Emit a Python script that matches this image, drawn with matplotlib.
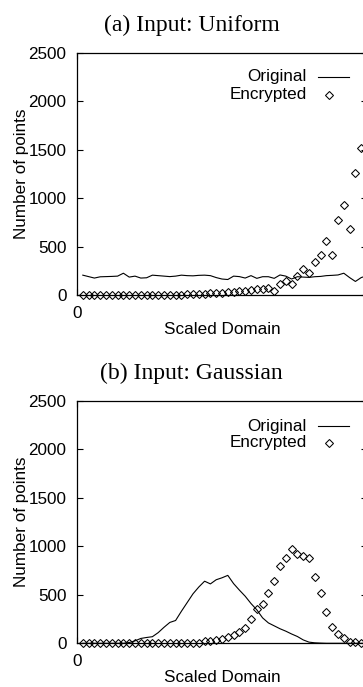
import numpy as np
import matplotlib
matplotlib.use("Agg")
import matplotlib.pyplot as plt
from matplotlib.lines import Line2D

plt.rcParams['font.family'] = ['Liberation Sans', 'DejaVu Sans']

# ---- data (bin index 1..50 on a scaled domain 0..50) ----
bins = np.arange(1, 51)

uniform_original = [205, 190, 175, 188, 190, 192, 195, 225, 185, 195,
                    175, 178, 205, 200, 195, 190, 195, 205, 200, 198,
                    203, 205, 200, 180, 165, 160, 195, 190, 175, 200,
                    172, 189, 189, 172, 207, 195, 165, 189, 185, 182,
                    189, 192, 200, 203, 207, 225, 180, 140, 180, 200]

uniform_encrypted = [0, 0, 0, 0, 0, 0, 0, 0, 0, 0,
                     0, 0, 0, 0, 0, 2, 3, 5, 7, 9,
                     12, 15, 18, 22, 25, 28, 33, 38, 45, 55,
                     62, 59, 72, 45, 114, 145, 110, 200, 265, 224,
                     344, 413, 558, 413, 775, 925, 682, 1257, 1515, 1700]

gaussian_original = [0, 0, 0, 0, 0, 0, 0, 0, 8, 25,
                     50, 60, 68, 110, 165, 215, 235, 330, 420, 510,
                     580, 640, 612, 655, 675, 700, 615, 548, 485, 410,
                     345, 262, 210, 180, 150, 125, 96, 70, 35, 12,
                     5, 2, 0, 0, 0, 0, 0, 0, 0, 0]

gaussian_encrypted = [0, 0, 0, 0, 0, 0, 0, 0, 0, 0,
                      0, 0, 0, 0, 0, 0, 0, 0, 0, 0,
                      0, 24, 27, 34, 44, 62, 86, 113, 155, 247,
                      354, 405, 515, 645, 795, 876, 969, 920, 900, 876,
                      680, 515, 326, 165, 93, 58, 17, 10, 5, 2]

y_ticks = [0, 500, 1000, 1500, 2000, 2500]
x_ticks = [0]
x_tick_labels = ['0']
titles = ["(a) Input: Uniform", "(b) Input: Gaussian"]
series_labels = ["Original", "Encrypted"]

# ---- layout (pixels) ----
W, H = 363, 687
fig = plt.figure(figsize=(W / 100, H / 100), dpi=100)


def fx(px):
    return px / W


def fy(py):
    return 1 - py / H


LEFT, RIGHT = 77, 367
panels = [
    dict(title=titles[0], title_y=25, top=53, bottom=295,
         orig=uniform_original, enc=uniform_encrypted, leg=(77, 95)),
    dict(title=titles[1], title_y=373, top=400.7, bottom=643.3,
         orig=gaussian_original, enc=gaussian_encrypted, leg=(426, 443)),
]

FS = 12.3
for p in panels:
    ax = fig.add_axes([fx(LEFT), fy(p['bottom']), (RIGHT - LEFT) / W,
                       (p['bottom'] - p['top']) / H])
    ax.plot(bins, p['orig'], color='black', lw=0.8)
    ax.plot(bins, p['enc'], ls='none', marker='D', ms=3.8, mfc='none',
            mec='black', mew=0.75, clip_on=False)
    ax.set_xlim(0, 50)
    ax.set_ylim(0, 2500)
    ax.set_yticks(y_ticks)
    ax.set_xticks(x_ticks)
    ax.set_xticklabels(x_tick_labels)
    ax.tick_params(axis='y', direction='in', length=4.3, width=0.8,
                   left=True, right=True, labelsize=FS, pad=7.6)
    ax.tick_params(axis='x', direction='in', length=4.3, width=0.8,
                   bottom=True, top=True, labelsize=FS, pad=8)
    for s in ax.spines.values():
        s.set_linewidth(0.9)

    # titles and axis labels
    fig.text(fx(191.5), fy(p['title_y']), p['title'], ha='center',
             va='center', family='Liberation Serif', size=17)
    fig.text(fx(222), fy(p['bottom'] + 34), 'Scaled Domain', ha='center',
             va='center', size=FS)
    fig.text(fx(22), fy((p['top'] + p['bottom']) / 2), 'Number of points',
             rotation=90, ha='center', va='center', size=FS)

    # key (gnuplot style: right-aligned text, sample on the right)
    y0, y1 = p['leg']
    fig.text(fx(307), fy(y0), series_labels[0], ha='right', va='center',
             size=FS)
    fig.text(fx(307), fy(y1), series_labels[1], ha='right', va='center',
             size=FS)
    fig.add_artist(Line2D([fx(318), fx(349)], [fy(y0), fy(y0)],
                          transform=fig.transFigure, color='black', lw=0.8))
    fig.add_artist(Line2D([fx(329)], [fy(y1)], transform=fig.transFigure,
                          ls='none', marker='D', ms=3.8, mfc='none',
                          mec='black', mew=0.75))

fig.savefig('out.png', dpi=100)
